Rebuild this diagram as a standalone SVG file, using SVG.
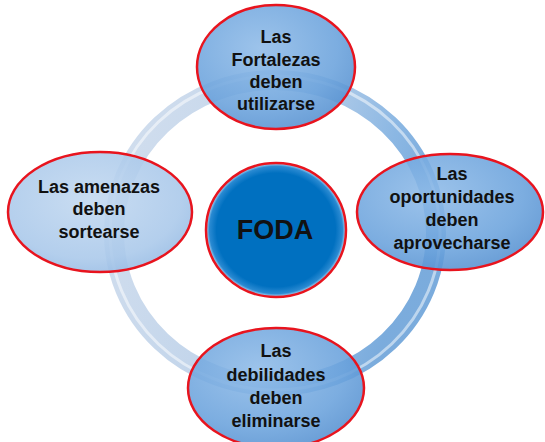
<svg xmlns="http://www.w3.org/2000/svg" width="545" height="442" viewBox="0 0 545 442">
<defs>
<linearGradient id="ringG" x1="0" y1="0" x2="1" y2="0.3">
<stop offset="0" stop-color="#c8d7ea"/>
<stop offset="0.5" stop-color="#b4cbe6"/>
<stop offset="0.85" stop-color="#6ea5dc"/>
<stop offset="1" stop-color="#5a97d4"/>
</linearGradient>
<radialGradient id="ellG" cx="0.4" cy="0.35" r="0.7">
<stop offset="0" stop-color="#8fbbe8"/>
<stop offset="0.7" stop-color="#6aa2dc"/>
<stop offset="1" stop-color="#5590d0"/>
</radialGradient>
<radialGradient id="ellL" cx="0.45" cy="0.4" r="0.7">
<stop offset="0" stop-color="#c2d8f0"/>
<stop offset="0.7" stop-color="#a9c8ea"/>
<stop offset="1" stop-color="#8fb6e2"/>
</radialGradient>
<radialGradient id="core" cx="0.5" cy="0.5" r="0.5">
<stop offset="0.85" stop-color="#0070c0"/>
<stop offset="0.95" stop-color="#2a8ad2"/>
<stop offset="1" stop-color="#bfe0f8"/>
</radialGradient>
<style>
.ell{stroke:#e8141e;stroke-width:2.5;fill-opacity:0.88}
.t{font-family:"Liberation Sans",Arial,sans-serif;font-weight:bold;font-size:18px;fill:#111;text-anchor:middle}
.big{font-size:27px}
</style>
</defs>
<g id="connectors">
<ellipse cx="275" cy="233" rx="161" ry="153" fill="none" stroke="url(#ringG)" stroke-width="20" stroke-opacity="0.8"/>
<ellipse cx="275" cy="233" rx="165" ry="157" fill="none" stroke="#ffffff" stroke-width="3" stroke-opacity="0.5"/>
</g>
<g id="node-top">
<ellipse class="ell" cx="276" cy="67" rx="79" ry="62" fill="url(#ellG)"/>
<text class="t" x="276" y="43">Las</text>
<text class="t" x="276" y="66">Fortalezas</text>
<text class="t" x="276" y="88">deben</text>
<text class="t" x="276" y="110">utilizarse</text>
</g>
<g id="node-left">
<ellipse class="ell" cx="100" cy="212" rx="92" ry="60" fill="url(#ellL)"/>
<text class="t" x="99" y="193">Las amenazas</text>
<text class="t" x="99" y="215">deben</text>
<text class="t" x="99" y="238">sortearse</text>
</g>
<g id="node-right">
<ellipse class="ell" cx="450" cy="212" rx="93" ry="58" fill="url(#ellG)"/>
<text class="t" x="452" y="180">Las</text>
<text class="t" x="452" y="203">oportunidades</text>
<text class="t" x="452" y="226">deben</text>
<text class="t" x="452" y="249">aprovecharse</text>
</g>
<g id="node-bottom">
<ellipse class="ell" cx="276" cy="388" rx="88" ry="60" fill="url(#ellG)"/>
<text class="t" x="276" y="357">Las</text>
<text class="t" x="276" y="381">debilidades</text>
<text class="t" x="276" y="404">deben</text>
<text class="t" x="276" y="427">eliminarse</text>
</g>
<g id="node-center">
<ellipse cx="276" cy="230" rx="70" ry="67" fill="url(#core)" stroke="#e8141e" stroke-width="2.5"/>
<text class="t big" x="275" y="239">FODA</text>
</g>
</svg>
